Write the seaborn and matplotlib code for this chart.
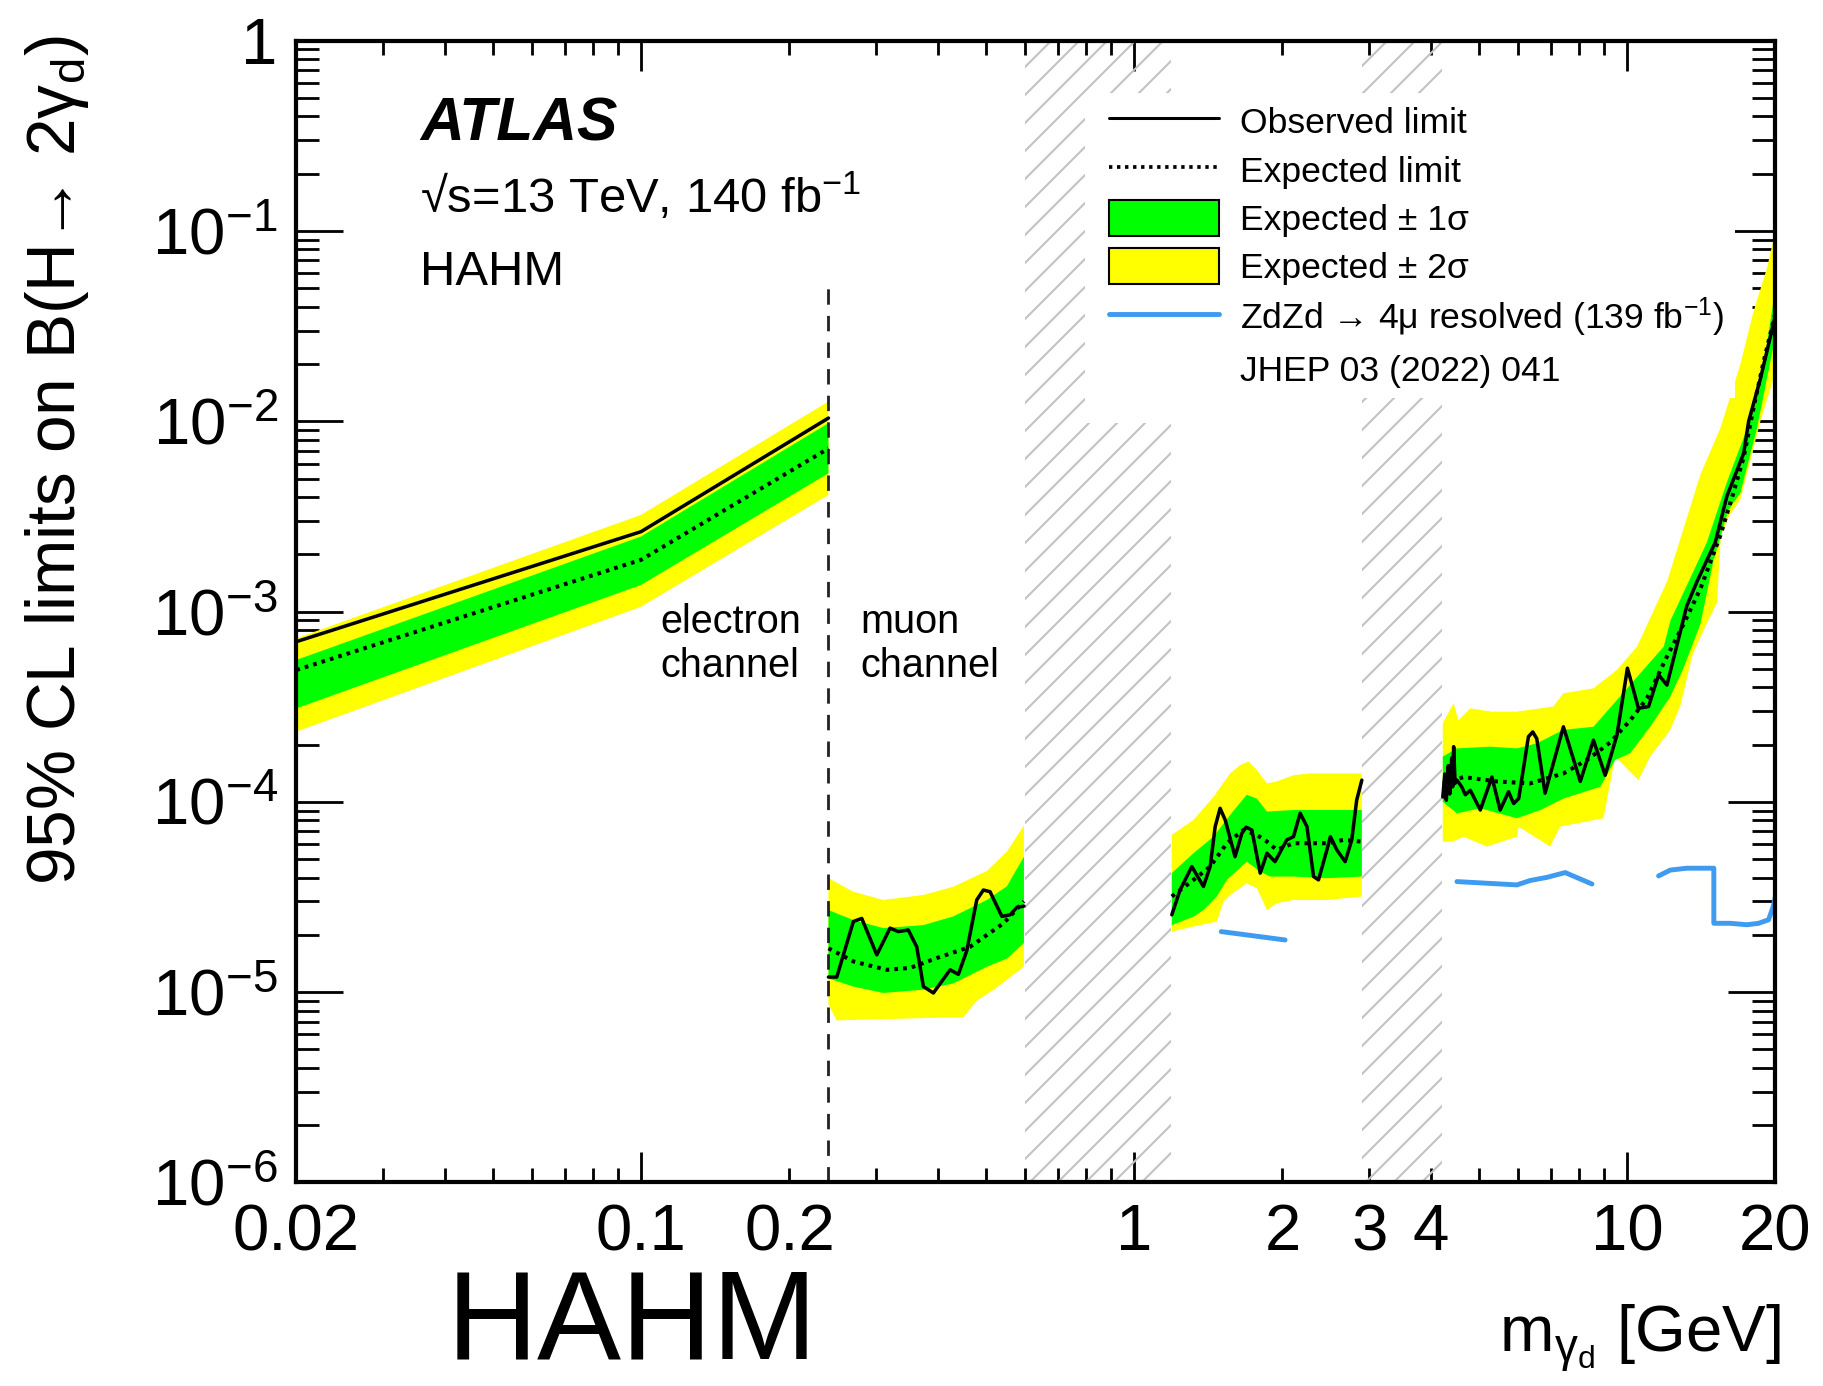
import numpy as np
import matplotlib
matplotlib.use("Agg")
import matplotlib.pyplot as plt
from matplotlib.lines import Line2D
from matplotlib.patches import Patch, Rectangle
from matplotlib.ticker import FixedLocator, FuncFormatter
import seaborn as sns

# ---------------- data ----------------
# electron channel: common mass grid [GeV]
ele_mass = [0.02, 0.1, 0.24]
ele_obs = [6.95e-4, 2.63e-3, 1.04e-2]
ele_exp = [4.93e-4, 1.87e-3, 7.2e-3]
ele_p1 = [5.57e-4, 2.48e-3, 9.77e-3]
ele_m1 = [3.1e-4, 1.38e-3, 5.33e-3]
ele_p2 = [7.24e-4, 3.22e-3, 1.27e-2]
ele_m2 = [2.34e-4, 1.06e-3, 4.1e-3]

# muon channel, 0.24-0.6 GeV window: (mass, limit)
mu1_obs = [(0.240, 1.2e-5), (0.2495, 1.2e-5), (0.2696, 2.35e-5), (0.2804, 2.44e-5),
           (0.3008, 1.57e-5), (0.3200, 2.17e-5), (0.3325, 2.08e-5), (0.3485, 2.12e-5),
           (0.3625, 1.73e-5), (0.3739, 1.07e-5), (0.3918, 9.9e-6), (0.4236, 1.31e-5),
           (0.4403, 1.24e-5), (0.4579, 1.65e-5), (0.4797, 3.05e-5), (0.4948, 3.44e-5),
           (0.5105, 3.37e-5), (0.5395, 2.5e-5), (0.5609, 2.55e-5), (0.5787, 2.79e-5),
           (0.598, 2.83e-5)]
mu1_exp = [(0.240, 1.7e-5), (0.2696, 1.45e-5), (0.315, 1.31e-5), (0.3513, 1.34e-5),
           (0.398, 1.51e-5), (0.465, 1.73e-5), (0.5436, 2.3e-5), (0.598, 3.0e-5)]
mu1_p1 = [(0.240, 2.7e-5), (0.2696, 2.39e-5), (0.31, 2.17e-5), (0.3739, 2.25e-5),
          (0.43, 2.5e-5), (0.503, 3.05e-5), (0.5523, 3.6e-5), (0.598, 5.15e-5)]
mu1_m1 = [(0.240, 1.18e-5), (0.2696, 1.07e-5), (0.31, 9.9e-6), (0.3739, 1.03e-5),
          (0.43, 1.11e-5), (0.503, 1.36e-5), (0.5523, 1.5e-5), (0.598, 1.81e-5)]
mu1_p2 = [(0.240, 3.97e-5), (0.2696, 3.37e-5), (0.31, 3.05e-5), (0.3739, 3.24e-5),
          (0.43, 3.58e-5), (0.503, 4.33e-5), (0.5523, 5.47e-5), (0.598, 7.5e-5)]
mu1_m2 = [(0.240, 8.6e-6), (0.2495, 7.1e-6), (0.4508, 7.4e-6), (0.4797, 9.0e-6),
          (0.5248, 1.05e-5), (0.598, 1.36e-5)]

# muon channel, 1.19-2.9 GeV window
mu2_obs = [(1.193, 2.55e-5), (1.240, 3.44e-5), (1.310, 4.57e-5), (1.383, 3.59e-5),
           (1.427, 4.57e-5), (1.461, 7.41e-5), (1.495, 9.25e-5), (1.531, 8.03e-5),
           (1.603, 5.15e-5), (1.655, 6.84e-5), (1.688, 7.36e-5), (1.734, 7.11e-5),
           (1.803, 4.22e-5), (1.861, 5.37e-5), (1.932, 4.85e-5), (2.041, 6.31e-5),
           (2.106, 6.56e-5), (2.173, 8.71e-5), (2.243, 7.41e-5), (2.313, 4.05e-5),
           (2.367, 3.89e-5), (2.462, 5.59e-5), (2.502, 6.56e-5), (2.579, 5.59e-5),
           (2.681, 4.85e-5), (2.765, 6.31e-5), (2.829, 1.02e-4), (2.898, 1.30e-4)]
mu2_exp = [(1.193, 3.18e-5), (1.320, 3.89e-5), (1.427, 4.57e-5), (1.543, 6.06e-5),
           (1.667, 7.11e-5), (1.775, 6.70e-5), (1.861, 6.18e-5), (1.948, 5.59e-5),
           (2.106, 6.06e-5), (2.278, 6.06e-5), (2.462, 6.06e-5), (2.660, 6.31e-5),
           (2.898, 6.18e-5)]
mu2_p1 = [(1.193, 4.22e-5), (1.320, 5.37e-5), (1.449, 6.56e-5), (1.567, 8.54e-5),
          (1.693, 1.09e-4), (1.775, 1.04e-4), (1.861, 8.89e-5), (2.106, 9.06e-5),
          (2.462, 9.06e-5), (2.898, 9.06e-5)]
mu2_m1 = [(1.193, 2.25e-5), (1.320, 2.49e-5), (1.383, 2.70e-5), (1.472, 3.18e-5),
          (1.543, 3.89e-5), (1.693, 4.85e-5), (1.803, 4.30e-5), (1.888, 4.05e-5),
          (2.106, 4.05e-5), (2.462, 3.97e-5), (2.898, 4.05e-5)]
mu2_p2 = [(1.193, 6.70e-5), (1.320, 8.03e-5), (1.449, 1.06e-4), (1.567, 1.41e-4),
          (1.642, 1.56e-4), (1.707, 1.63e-4), (1.775, 1.47e-4), (1.861, 1.25e-4),
          (1.948, 1.28e-4), (2.106, 1.38e-4), (2.278, 1.41e-4), (2.462, 1.41e-4),
          (2.660, 1.41e-4), (2.898, 1.41e-4)]
mu2_m2 = [(1.193, 2.08e-5), (1.320, 2.21e-5), (1.472, 2.35e-5), (1.519, 2.99e-5),
          (1.567, 3.24e-5), (1.693, 3.73e-5), (1.775, 3.52e-5), (1.861, 2.70e-5),
          (1.948, 2.93e-5), (2.106, 3.05e-5), (2.462, 3.05e-5), (2.898, 3.18e-5)]

# muon channel, 4.2-20 GeV window
mu3_obs = [(4.23, 1.06e-4), (4.27, 1.4e-4), (4.30, 1.02e-4), (4.34, 1.55e-4),
           (4.37, 1.1e-4), (4.41, 1.7e-4), (4.43, 1.2e-4), (4.45, 1.95e-4),
           (4.48, 1.25e-4), (4.52, 1.30e-4), (4.62, 1.20e-4), (4.70, 1.09e-4),
           (4.81, 1.15e-4), (5.04, 9.06e-5), (5.32, 1.35e-4), (5.53, 9.06e-5),
           (5.75, 1.13e-4), (5.89, 9.8e-5), (6.03, 1.04e-4), (6.31, 2.20e-4),
           (6.44, 2.33e-4), (6.56, 2.15e-4), (6.82, 1.11e-4), (7.43, 2.48e-4),
           (8.04, 1.28e-4), (8.55, 2.11e-4), (9.03, 1.38e-4), (9.54, 2.24e-4),
           (10.02, 5.04e-4), (10.55, 3.1e-4), (11.06, 3.17e-4), (11.59, 4.65e-4),
           (12.05, 4.11e-4), (13.22, 1.07e-3), (13.87, 1.44e-3), (15.10, 2.31e-3),
           (15.95, 4.05e-3), (17.25, 6.8e-3), (17.65, 1.0e-2), (18.64, 1.67e-2),
           (20.0, 3.6e-2)]
mu3_exp = [(4.23, 1.25e-4), (4.45, 1.30e-4), (4.66, 1.35e-4), (5.45, 1.28e-4),
           (6.36, 1.25e-4), (7.43, 1.41e-4), (8.29, 1.66e-4), (9.24, 2.05e-4),
           (10.15, 2.68e-4), (10.98, 3.5e-4), (12.06, 5.83e-4), (13.03, 8.6e-4),
           (14.09, 1.32e-3), (15.47, 2.52e-3), (16.44, 4.22e-3), (17.25, 6.5e-3),
           (18.07, 1.19e-2), (18.94, 2.07e-2), (20.0, 3.7e-2)]
mu3_p1 = [(4.23, 1.73e-4), (4.52, 1.91e-4), (5.28, 1.95e-4), (5.98, 1.91e-4),
          (6.56, 2.03e-4), (7.43, 2.39e-4), (8.55, 2.48e-4), (9.54, 3.43e-4),
          (10.64, 4.74e-4), (11.87, 6.54e-4), (12.25, 8.97e-4), (14.52, 2.31e-3),
          (15.95, 4.8e-3), (17.53, 9.2e-3), (18.94, 1.99e-2), (20.0, 5.0e-2)]
mu3_m1 = [(4.23, 1.0e-4), (4.52, 8.7e-5), (5.04, 9.25e-5), (5.98, 8.2e-5),
          (6.67, 9.06e-5), (7.43, 1.04e-4), (8.83, 1.20e-4), (9.46, 1.66e-4),
          (10.15, 1.8e-4), (11.14, 2.48e-4), (12.24, 3.57e-4), (13.0, 5.0e-4),
          (14.09, 8.6e-4), (14.99, 1.87e-3), (16.05, 3.41e-3), (16.98, 4.2e-3),
          (18.35, 9.2e-3), (20.0, 2.8e-2)]
mu3_p2 = [(4.23, 2.59e-4), (4.45, 3.3e-4), (4.55, 2.68e-4), (4.81, 3.1e-4),
          (5.3, 2.98e-4), (5.98, 2.98e-4), (7.09, 3.17e-4), (7.43, 3.72e-4),
          (8.55, 3.95e-4), (9.54, 4.93e-4), (10.48, 6.54e-4), (12.06, 1.44e-3),
          (14.09, 5.25e-3), (15.47, 9.2e-3), (16.98, 1.99e-2), (18.07, 3.8e-2),
          (19.23, 6.4e-2), (20.0, 0.1)]
mu3_m2 = [(4.23, 6.18e-5), (4.45, 6.2e-5), (4.66, 6.56e-5), (5.20, 5.82e-5),
          (5.98, 6.56e-5), (6.03, 7.41e-5), (6.98, 5.82e-5), (7.32, 7.41e-5),
          (8.96, 8.2e-5), (9.46, 1.73e-4), (10.55, 1.30e-4), (11.14, 1.73e-4),
          (12.24, 2.39e-4), (12.83, 3.2e-4), (13.6, 6.0e-4), (14.5, 8.6e-4),
          (15.22, 1.11e-3), (15.5, 2.5e-3), (16.05, 3.13e-3), (16.98, 3.88e-3),
          (18.64, 1.0e-2), (20.0, 1.8e-2)]

# ZdZd -> 4mu resolved limits (139 fb-1), separate mass segments
zd_seg1 = [(1.503, 2.08e-5), (2.025, 1.88e-5)]
zd_seg2 = [(4.52, 3.81e-5), (5.98, 3.66e-5), (6.36, 3.86e-5), (6.88, 4.01e-5),
           (7.49, 4.25e-5), (8.49, 3.70e-5)]
zd_seg3 = [(11.59, 4.08e-5), (12.24, 4.38e-5), (13.23, 4.48e-5), (15.0, 4.48e-5),
           (15.0, 2.30e-5), (16.19, 2.30e-5), (17.51, 2.26e-5), (18.49, 2.30e-5),
           (19.37, 2.40e-5), (19.8, 2.82e-5), (20.0, 3.18e-5)]

# excluded (vetoed) mass windows [GeV]
vetoed_windows = [(0.6, 1.19), (2.9, 4.22)]

# electron / muon channel boundary
channel_boundary = 0.24
channel_boundary_top = 5.2e-2

x_tick_values = [0.02, 0.1, 0.2, 1, 2, 3, 4, 10, 20]
x_tick_labels = ["0.02", "0.1", "0.2", "1", "2", "3", "4", "10", "20"]
y_tick_values = [1e-6, 1e-5, 1e-4, 1e-3, 1e-2, 1e-1, 1]
y_tick_labels = [r"$10^{-6}$", r"$10^{-5}$", r"$10^{-4}$", r"$10^{-3}$",
                 r"$10^{-2}$", r"$10^{-1}$", "1"]

legend_labels = ["Observed limit", "Expected limit", "Expected ± 1σ",
                 "Expected ± 2σ", "ZdZd → 4μ resolved (139 fb$^{-1}$)",
                 "JHEP 03 (2022) 041"]

GREEN = "#00ff00"
YELLOW = "#ffff00"
BLUE = "#3f9bf0"

# ---------------- style ----------------
sns.set_theme(style="ticks")
DPI = 168
plt.rcParams.update({
    "font.family": ["Liberation Sans", "DejaVu Sans"],
    "mathtext.fontset": "custom",
    "mathtext.rm": "Liberation Sans",
    "mathtext.it": "Liberation Sans:italic",
    "mathtext.bf": "Liberation Sans:bold",
    "text.color": "black",
    "axes.labelcolor": "black",
    "axes.edgecolor": "black",
    "xtick.color": "black",
    "ytick.color": "black",
    "hatch.color": "#c2c2c2",
    "hatch.linewidth": 0.9,
    "axes.linewidth": 1.8,
})

fig = plt.figure(figsize=(1823 / DPI, 1386 / DPI), dpi=DPI)
fig.patch.set_facecolor("white")
ax = fig.add_axes([0.1626, 0.1469, 0.8113, 0.8237])
ax.set_facecolor("white")
ax.set_xscale("log")
ax.set_yscale("log")
ax.set_xlim(0.02, 20)
ax.set_ylim(1e-6, 1)


def band(upper, lower, color):
    up = np.asarray(upper, dtype=float)
    lo = np.asarray(lower, dtype=float)
    xs = np.concatenate([up[:, 0], lo[::-1, 0]])
    ys = np.concatenate([up[:, 1], lo[::-1, 1]])
    ax.fill(xs, ys, color=color, lw=0, zorder=2)


def curve(points, **kw):
    arr = np.asarray(points, dtype=float)
    sns.lineplot(x=arr[:, 0], y=arr[:, 1], ax=ax, estimator=None, sort=False,
                 legend=False, **kw)


# vetoed windows
for lo, hi in vetoed_windows:
    ax.axvspan(lo, hi, facecolor="none", edgecolor="#c2c2c2", hatch="//",
               linewidth=0, zorder=1)

# expected bands
band(list(zip(ele_mass, ele_p2)), list(zip(ele_mass, ele_m2)), YELLOW)
band(list(zip(ele_mass, ele_p1)), list(zip(ele_mass, ele_m1)), GREEN)
for p2, m2, p1, m1 in [(mu1_p2, mu1_m2, mu1_p1, mu1_m1),
                       (mu2_p2, mu2_m2, mu2_p1, mu2_m1),
                       (mu3_p2, mu3_m2, mu3_p1, mu3_m1)]:
    band(p2, m2, YELLOW)
    band(p1, m1, GREEN)

# expected and observed limits
obs_style = dict(color="black", linewidth=1.5, zorder=4)
exp_style = dict(color="black", linewidth=1.75, linestyle=(0, (0.9, 1.25)), zorder=4)
curve(list(zip(ele_mass, ele_exp)), **exp_style)
curve(list(zip(ele_mass, ele_obs)), **obs_style)
for exp, obs in [(mu1_exp, mu1_obs), (mu2_exp, mu2_obs), (mu3_exp, mu3_obs)]:
    curve(exp, **exp_style)
    curve(obs, **obs_style)

# previous ZdZd result
for seg in (zd_seg1, zd_seg2, zd_seg3):
    curve(seg, color=BLUE, linewidth=2.1, zorder=3)

# channel boundary
curve([(channel_boundary, 1e-6), (channel_boundary, channel_boundary_top)],
      color="#222222", linewidth=1.2, linestyle=(0, (5.5, 4.0)), zorder=3)

# ---------------- axes / ticks ----------------
decades = [0.01, 0.1, 1, 10]
minor_x = [s * d for d in decades for s in range(2, 10) if 0.02 <= s * d <= 20]
ax.xaxis.set_major_locator(FixedLocator([0.1, 1, 10]))
ax.xaxis.set_minor_locator(FixedLocator(minor_x))
xlab = {round(v, 6): t for v, t in zip(x_tick_values, x_tick_labels)}
xfmt = FuncFormatter(lambda v, pos: xlab.get(round(v, 6), ""))
ax.xaxis.set_major_formatter(xfmt)
ax.xaxis.set_minor_formatter(xfmt)

minor_y = [s * 10.0 ** e for e in range(-6, 0) for s in range(2, 10)]
ylab = {round(np.log10(v)): t for v, t in zip(y_tick_values, y_tick_labels)}
ax.yaxis.set_major_locator(FixedLocator(y_tick_values))
ax.yaxis.set_major_formatter(FuncFormatter(
    lambda v, pos: ylab.get(round(np.log10(v)), "")))
ax.yaxis.set_minor_locator(FixedLocator(minor_y))
ax.yaxis.set_minor_formatter(FuncFormatter(lambda v, pos: ""))

ax.tick_params(which="both", direction="in", top=True, right=True,
               labelsize=28, width=1.2)
ax.tick_params(axis="x", which="major", length=13, pad=9)
ax.tick_params(axis="x", which="minor", length=6, pad=9)
ax.tick_params(axis="y", which="major", length=20, pad=8)
ax.tick_params(axis="y", which="minor", length=10, pad=8)
for s in ax.spines.values():
    s.set_linewidth(1.8)
    s.set_zorder(6)

# ---------------- legend ----------------
ax.add_patch(Rectangle((0.5332, 0.6652), 0.0582, 0.2872, transform=ax.transAxes,
                       facecolor="white", edgecolor="none", zorder=1.5))
handles = [
    Line2D([], [], color="black", linewidth=1.3),
    Line2D([], [], color="black", linewidth=1.6, linestyle=(0, (0.9, 1.25))),
    Patch(facecolor=GREEN, edgecolor="black", linewidth=0.9),
    Patch(facecolor=YELLOW, edgecolor="black", linewidth=0.9),
    Line2D([], [], color=BLUE, linewidth=2.1),
    Line2D([], [], linestyle="none"),
]
leg = ax.legend(handles, legend_labels, loc="upper left",
                bbox_to_anchor=(0.5422, 0.9545), borderaxespad=0,
                fontsize=15.2, frameon=True, fancybox=False, framealpha=1,
                facecolor="white", edgecolor="none", borderpad=0.3,
                labelspacing=0.31, handlelength=3.1, handleheight=1.2,
                handletextpad=0.6)
leg.set_zorder(5)

# ---------------- text ----------------
fig.text(0.2304, 0.8983, "ATLAS", fontsize=26, fontweight="bold",
         fontstyle="italic", va="baseline")
fig.text(0.2304, 0.8463, "√s=13 TeV, 140 fb$^{-1}$",
         fontsize=21, va="baseline")
fig.text(0.2304, 0.7944, "HAHM", fontsize=21, va="baseline")

for i, line in enumerate(["electron", "channel"]):
    fig.text(0.3620, 0.5433 - 0.0318 * i, line, fontsize=17, va="baseline")
for i, line in enumerate(["muon", "channel"]):
    fig.text(0.4718, 0.5433 - 0.0318 * i, line, fontsize=17, va="baseline")

fig.text(0.977, 0.0238, r"m$_{\mathrm{\gamma}_{\mathrm{d}}}$ [GeV]", fontsize=28,
         ha="right", va="baseline")
fig.text(0.0414, 0.9747, r"95% CL limits on B(H→ 2γ$_{\mathrm{d}}$)",
         fontsize=29, rotation=90, rotation_mode="anchor", ha="right",
         va="baseline")
fig.text(0.3467, 0.0195, "HAHM", fontsize=54, ha="center", va="baseline")

fig.savefig("out.png", dpi=DPI, facecolor="white")
